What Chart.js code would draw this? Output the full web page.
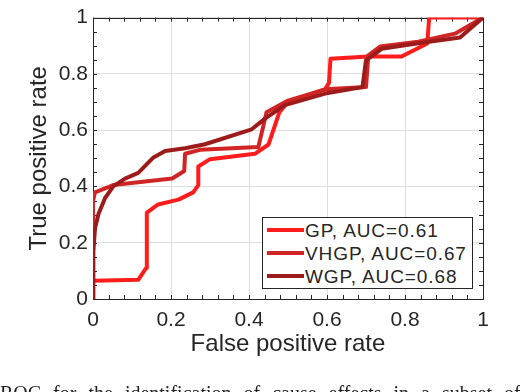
<!DOCTYPE html>
<html>
<head>
<meta charset="utf-8">
<script src="https://cdn.jsdelivr.net/npm/chart.js@4.4.1/dist/chart.umd.min.js"></script>
<style>
  body { margin: 0; background: #fff; }
  #wrap { position: relative; width: 520px; height: 392px; overflow: hidden; }
  #legend {
    position: absolute; left: 262px; top: 217px; width: 209px; height: 70px;
    border: 1px solid #262626; background: #fff;
    font-family: "Liberation Sans", Arial, sans-serif; font-size: 19px; color: #262626;
  }
  .item { position: absolute; left: 0; height: 22px; line-height: 22px; white-space: nowrap; }
  .item span.swatch { position: absolute; left: 4px; top: 9px; width: 37px; height: 4px; }
  .item span.txt { position: absolute; left: 42px; top: 1px; }
  #caption {
    position: absolute; left: 0; top: 383px; white-space: nowrap;
    font-family: "Liberation Serif", "Times New Roman", serif; font-size: 20px; line-height: 1;
    word-spacing: 7px; color: #222;
  }
</style>
</head>
<body>
<div id="wrap">
  <canvas id="roc" width="520" height="392"></canvas>
  <div id="legend"></div>
  <div id="caption">ROC for the identification of cause effects in a subset of</div>
</div>
<script>
// series labels and colours
let seriesNames = ['GP, AUC=0.61', 'VHGP, AUC=0.67', 'WGP, AUC=0.68'];
let seriesColors = ['#ff1c1c', '#d12525', '#9c1b1b'];

// ROC points (false positive rate / true positive rate)
let gpFpr = [0, 0, 0.116, 0.136, 0.138, 0.167, 0.219, 0.257, 0.27, 0.27, 0.30, 0.415, 0.45, 0.478, 0.50, 0.595, 0.605, 0.609, 0.706, 0.791, 0.857, 0.862, 1];
let gpTpr = [0, 0.065, 0.068, 0.11, 0.307, 0.336, 0.353, 0.379, 0.405, 0.471, 0.497, 0.516, 0.549, 0.664, 0.70, 0.745, 0.768, 0.854, 0.862, 0.862, 0.908, 1, 1];

let vhgpFpr = [0, 0, 0.005, 0.052, 0.203, 0.234, 0.236, 0.274, 0.424, 0.445, 0.50, 0.595, 0.70, 0.706, 0.736, 0.834, 0.928, 1];
let vhgpTpr = [0, 0.348, 0.379, 0.405, 0.428, 0.455, 0.516, 0.53, 0.54, 0.664, 0.705, 0.745, 0.753, 0.866, 0.897, 0.914, 0.943, 1];

let wgpFpr = [0, 0.001, 0.005, 0.014, 0.031, 0.052, 0.082, 0.116, 0.155, 0.185, 0.236, 0.287, 0.407, 0.441, 0.492, 0.595, 0.691, 0.70, 0.718, 0.74, 0.834, 0.941, 1];
let wgpTpr = [0, 0.169, 0.25, 0.302, 0.359, 0.40, 0.428, 0.448, 0.503, 0.526, 0.536, 0.55, 0.603, 0.641, 0.689, 0.73, 0.753, 0.849, 0.866, 0.889, 0.909, 0.929, 1];

let xTitle = 'False positive rate';
let yTitle = 'True positive rate';

function toPoints(xs, ys) {
  return xs.map((x, i) => ({ x: x, y: ys[i] }));
}

// "0", "0.2", ... "1" like MATLAB, not "0.0" / "1.0"
function tickLabel(value) {
  return String(+value.toFixed(1));
}

var fontFamily = '"Liberation Sans", Arial, sans-serif';
var axisColor = '#262626';

// box round the axes with inward ticks on all four sides (MATLAB style)
const boxTicks = {
  id: 'boxTicks',
  beforeDatasetsDraw(chart) {
    const { ctx, chartArea: a, scales: { x, y } } = chart;
    ctx.save();
    ctx.strokeStyle = axisColor;
    ctx.lineWidth = 1;
    ctx.beginPath();
    for (let i = 0; i <= 25; i++) {
      let px = Math.round(x.getPixelForValue(i * 0.04)) + 0.5;
      ctx.moveTo(px, a.bottom); ctx.lineTo(px, a.bottom - 4);
      ctx.moveTo(px, a.top); ctx.lineTo(px, a.top + 4);
    }
    for (let i = 0; i <= 20; i++) {
      let py = Math.round(y.getPixelForValue(i * 0.05)) + 0.5;
      ctx.moveTo(a.left, py); ctx.lineTo(a.left + 4, py);
      ctx.moveTo(a.right, py); ctx.lineTo(a.right - 4, py);
    }
    ctx.stroke();
    ctx.strokeRect(Math.round(a.left) + 0.5, Math.round(a.top) + 0.5,
      Math.round(a.right - a.left), Math.round(a.bottom - a.top));
    ctx.restore();
  }
};

function makeDataset(i, xs, ys) {
  return {
    label: seriesNames[i],
    data: toPoints(xs, ys),
    showLine: true,
    borderColor: seriesColors[i],
    backgroundColor: seriesColors[i],
    borderWidth: 4,
    borderJoinStyle: 'round',
    pointRadius: 0,
    tension: 0,
    order: 3 - i
  };
}

const config = {
  type: 'scatter',
  data: {
    datasets: [
      makeDataset(0, gpFpr, gpTpr),
      makeDataset(1, vhgpFpr, vhgpTpr),
      makeDataset(2, wgpFpr, wgpTpr)
    ]
  },
  options: {
    responsive: false,
    animation: false,
    devicePixelRatio: 1,
    layout: { padding: { top: 10, right: 37, left: 0, bottom: 0 } },
    plugins: { legend: { display: false }, tooltip: { enabled: false } },
    scales: {
      x: {
        type: 'linear', min: 0, max: 1,
        afterFit: function (scale) { scale.height = 93; },
        border: { display: false },
        grid: { color: '#dedede', lineWidth: 1, drawTicks: false },
        ticks: { stepSize: 0.2, padding: 9, color: axisColor, font: { family: fontFamily, size: 21 }, maxRotation: 0, callback: tickLabel },
        title: { display: true, text: xTitle, color: axisColor, font: { family: fontFamily, size: 24 }, padding: { top: 0, bottom: 33 } }
      },
      y: {
        type: 'linear', min: 0, max: 1,
        afterFit: function (scale) { scale.width = 93; },
        border: { display: false },
        grid: { color: '#dedede', lineWidth: 1, drawTicks: false },
        ticks: { stepSize: 0.2, padding: 5, color: axisColor, font: { family: fontFamily, size: 21 }, callback: tickLabel },
        title: { display: true, text: yTitle, color: axisColor, font: { family: fontFamily, size: 24 }, padding: { top: 25, bottom: 0 } }
      }
    }
  },
  plugins: [boxTicks]
};

var chart = new Chart(document.getElementById('roc'), config);

// legend box inside the axes
var legend = document.getElementById('legend');
var rowTops = [1, 24, 47];
var texts = [];
seriesNames.forEach(function (name, i) {
  var row = document.createElement('div');
  row.className = 'item';
  row.style.top = rowTops[i] + 'px';
  row.innerHTML = '<span class="swatch" style="background:' + seriesColors[i] + '"></span><span class="txt">' + name + '</span>';
  legend.appendChild(row);
  texts.push(row.querySelector('.txt'));
});

// the longest entry nearly fills the box in the original (about 161px wide)
var longest = texts[1];
var spare = 161 - longest.getBoundingClientRect().width;
if (spare > 0) {
  var ls = spare / (seriesNames[1].length - 1);
  texts.forEach(function (t) { t.style.letterSpacing = ls.toFixed(2) + 'px'; });
}
</script>
</body>
</html>
